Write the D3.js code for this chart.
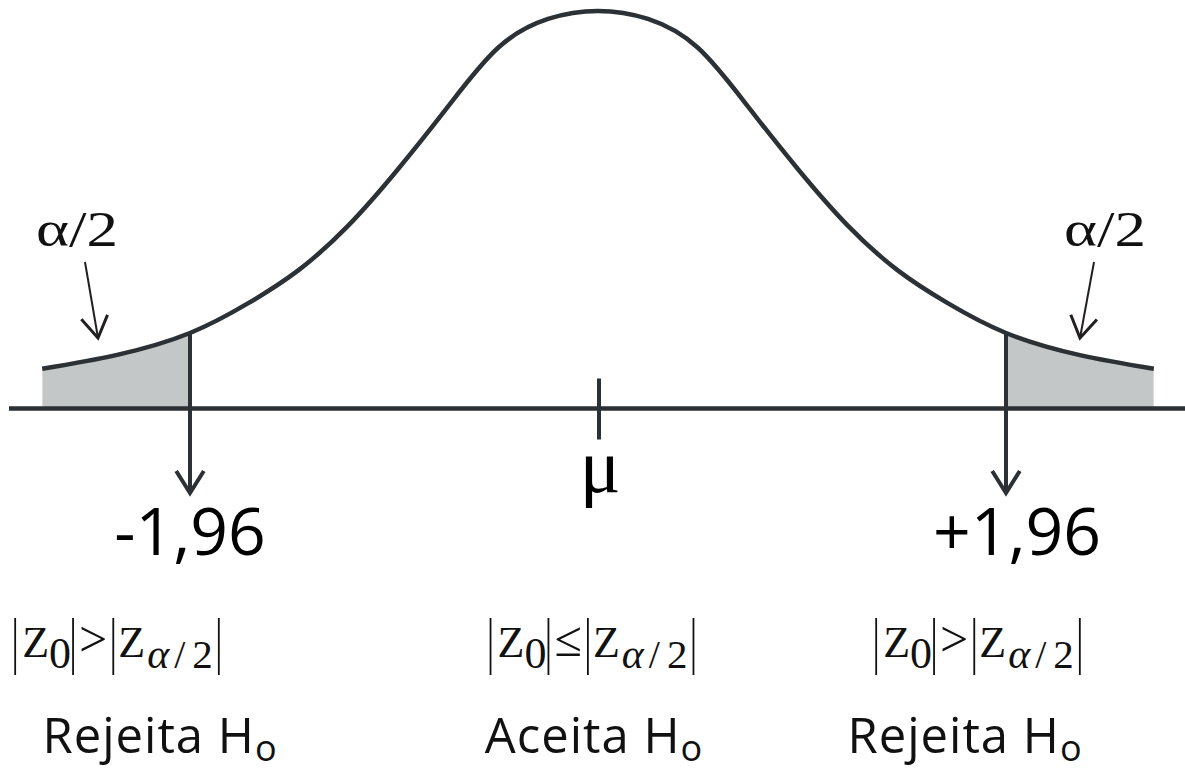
<!DOCTYPE html>
<html>
<head>
<meta charset="utf-8">
<script src="https://cdn.jsdelivr.net/npm/d3@7"></script>
<style>
  html, body { margin: 0; padding: 0; background: #fff; }
  svg { display: block; }
</style>
</head>
<body>
<svg id="chart" width="1185" height="771"></svg>
<script>
// Standard normal test statistic: density curve sampled along z
const zValues   = [-2.67, -2.31, -1.96, -1.68, -1.44, -1.20, -0.96, -0.72, -0.48, -0.24, 0,
                    0.24, 0.48, 0.72, 0.96, 1.20, 1.44, 1.68, 1.96, 2.31, 2.67];
const densities = [0.040, 0.054, 0.076, 0.106, 0.139, 0.184, 0.241, 0.304, 0.363, 0.392, 0.400,
                   0.392, 0.363, 0.304, 0.241, 0.184, 0.139, 0.106, 0.076, 0.054, 0.040];

// Two-sided critical values (alpha = 5%)
const criticalValues = [-1.96, 1.96];
const tailLabel = "α/2";
const meanLabel = "μ";

// Decision regions under the curve
const regionRelations = [">", "≤", ">"];
const regionDecisions = ["Rejeita", "Aceita", "Rejeita"];
const hypothesis = "H";
const hypothesisSub = "o";

const ink = "#2b3134";
const shade = "#c4c7c8";
const serif = "'Liberation Serif', 'Times New Roman', serif";
const sans = "'Open Sans', 'Noto Sans', sans-serif";

const svg = d3.select("#chart");

const x = d3.scaleLinear().domain([-1.96, 1.96]).range([190, 1006]);
const y = d3.scaleLinear().domain([0, 0.4]).range([408.5, 11]);

const curvePts = zValues.map((z, i) => ({ z, p: densities[i] }));
const zMin = d3.min(zValues), zMax = d3.max(zValues);

// Rejection-region shading (area under curve clipped to each tail)
const defs = svg.append("defs");
const tails = [[zMin, criticalValues[0]], [criticalValues[1], zMax]];
tails.forEach((t, i) => {
  defs.append("clipPath").attr("id", "tail" + i)
    .append("rect")
    .attr("x", x(t[0])).attr("y", 0)
    .attr("width", x(t[1]) - x(t[0])).attr("height", y(0));
});

const area = d3.area()
  .x(d => x(d.z)).y0(y(0)).y1(d => y(d.p))
  .curve(d3.curveNatural);

tails.forEach((t, i) => {
  svg.append("path")
    .datum(curvePts)
    .attr("clip-path", `url(#tail${i})`)
    .attr("d", area)
    .attr("fill", shade);
});

// Horizontal z axis
svg.append("line")
  .attr("x1", 9).attr("x2", 1185)
  .attr("y1", y(0)).attr("y2", y(0))
  .attr("stroke", ink).attr("stroke-width", 4.5);

// Open chevron arrow head at (tx,ty), pointing away from (fx,fy)
function chevron(fx, fy, tx, ty, len, halfAngle) {
  const back = Math.atan2(fy - ty, fx - tx);
  const a1 = back - halfAngle, a2 = back + halfAngle;
  return `M${tx + len * Math.cos(a1)},${ty + len * Math.sin(a1)}L${tx},${ty}L${tx + len * Math.cos(a2)},${ty + len * Math.sin(a2)}`;
}

// Critical-value arrows, dropping from the curve through the axis
const arrowTipY = 493;
const critDensity = z => densities[zValues.indexOf(z)];
const fmt = d3.formatLocale({ decimal: ",", thousands: ".", grouping: [3], currency: ["", ""], minus: "-" }).format("+.2f");

criticalValues.forEach(c => {
  const cx = x(c);
  svg.append("line")
    .attr("x1", cx).attr("x2", cx)
    .attr("y1", y(critDensity(c))).attr("y2", arrowTipY)
    .attr("stroke", ink).attr("stroke-width", 4);
  svg.append("path")
    .attr("d", chevron(cx, 0, cx, arrowTipY, 26, 0.56))
    .attr("fill", "none").attr("stroke", ink).attr("stroke-width", 4)
    .attr("stroke-linejoin", "miter");
  svg.append("text")
    .attr("x", c < 0 ? cx : cx + 11)
    .attr("y", 555)
    .attr("text-anchor", "middle")
    .attr("font-family", sans)
    .attr("font-size", 66)
    .attr("fill", "#000")
    .text(fmt(c));
});

// Density curve
svg.append("path")
  .datum(curvePts)
  .attr("d", d3.line().x(d => x(d.z)).y(d => y(d.p)).curve(d3.curveNatural))
  .attr("fill", "none")
  .attr("stroke", ink)
  .attr("stroke-width", 4.5);

// Mean tick and label
svg.append("line")
  .attr("x1", x(0) + 1).attr("x2", x(0) + 1)
  .attr("y1", y(0) - 30).attr("y2", y(0) + 31)
  .attr("stroke", ink).attr("stroke-width", 4);
svg.append("text")
  .attr("x", x(0) + 2).attr("y", 492)
  .attr("text-anchor", "middle")
  .attr("font-family", serif)
  .attr("font-size", 76)
  .attr("fill", "#000")
  .text(meanLabel);

// Tail-area annotations with thin pointer arrows
const tailNotes = [
  { tx: 77, ty: 246, from: [85, 262], to: [98, 338] },
  { tx: 1105, ty: 246, from: [1094, 262], to: [1080, 338] }
];
tailNotes.forEach(n => {
  svg.append("text")
    .attr("x", n.tx).attr("y", n.ty)
    .attr("text-anchor", "middle")
    .attr("font-family", serif)
    .attr("font-size", 51)
    .attr("textLength", 82)
    .attr("lengthAdjust", "spacingAndGlyphs")
    .attr("fill", "#111")
    .text(tailLabel);
  svg.append("line")
    .attr("x1", n.from[0]).attr("y1", n.from[1])
    .attr("x2", n.to[0]).attr("y2", n.to[1])
    .attr("stroke", "#231f20").attr("stroke-width", 2);
  svg.append("path")
    .attr("d", chevron(n.from[0], n.from[1], n.to[0], n.to[1], 25, 0.56))
    .attr("fill", "none").attr("stroke", "#231f20").attr("stroke-width", 3);
});

// Decision rules: |Z0| rel |Z_{alpha/2}|
const formulaCenters = [117, 592, 978];
const formulaBaseline = 657;
const barTop = 618, barBottom = 675;

regionRelations.forEach((rel, i) => {
  const g = svg.append("g");
  let cx = 0;
  const bar = () => {
    g.append("line").attr("x1", cx).attr("x2", cx)
      .attr("y1", barTop).attr("y2", barBottom)
      .attr("stroke", "#111").attr("stroke-width", 1.8);
  };
  const glyph = (s, size, dy, italic) => {
    const t = g.append("text")
      .attr("x", cx).attr("y", formulaBaseline + dy)
      .attr("font-family", serif)
      .attr("font-size", size)
      .attr("font-style", italic ? "italic" : "normal")
      .attr("fill", "#111")
      .text(s);
    cx += t.node().getComputedTextLength();
  };
  bar(); cx += 7;
  glyph("Z", 44, 0); glyph("0", 44, 11); cx += 2;
  bar(); cx += 6;
  glyph(rel, 50, -1); cx += 6;
  bar(); cx += 5;
  glyph("Z", 44, 0); cx += 2;
  glyph("α", 42, 11, true); cx += 5;
  glyph("/", 40, 11); cx += 7;
  glyph("2", 41, 11); cx += 6;
  bar();
  g.attr("transform", `translate(${formulaCenters[i] - cx / 2},0)`);
});

// Decision labels
const decisionCenters = [160, 594, 965];
regionDecisions.forEach((d, i) => {
  const t = svg.append("text")
    .attr("x", decisionCenters[i]).attr("y", 753)
    .attr("text-anchor", "middle")
    .attr("font-family", sans)
    .attr("font-size", 49)
    .attr("letter-spacing", 1)
    .attr("fill", "#111");
  t.append("tspan").text(d + " " + hypothesis);
  t.append("tspan").attr("font-size", 36).attr("dy", 8).text(hypothesisSub);
});
</script>
</body>
</html>
